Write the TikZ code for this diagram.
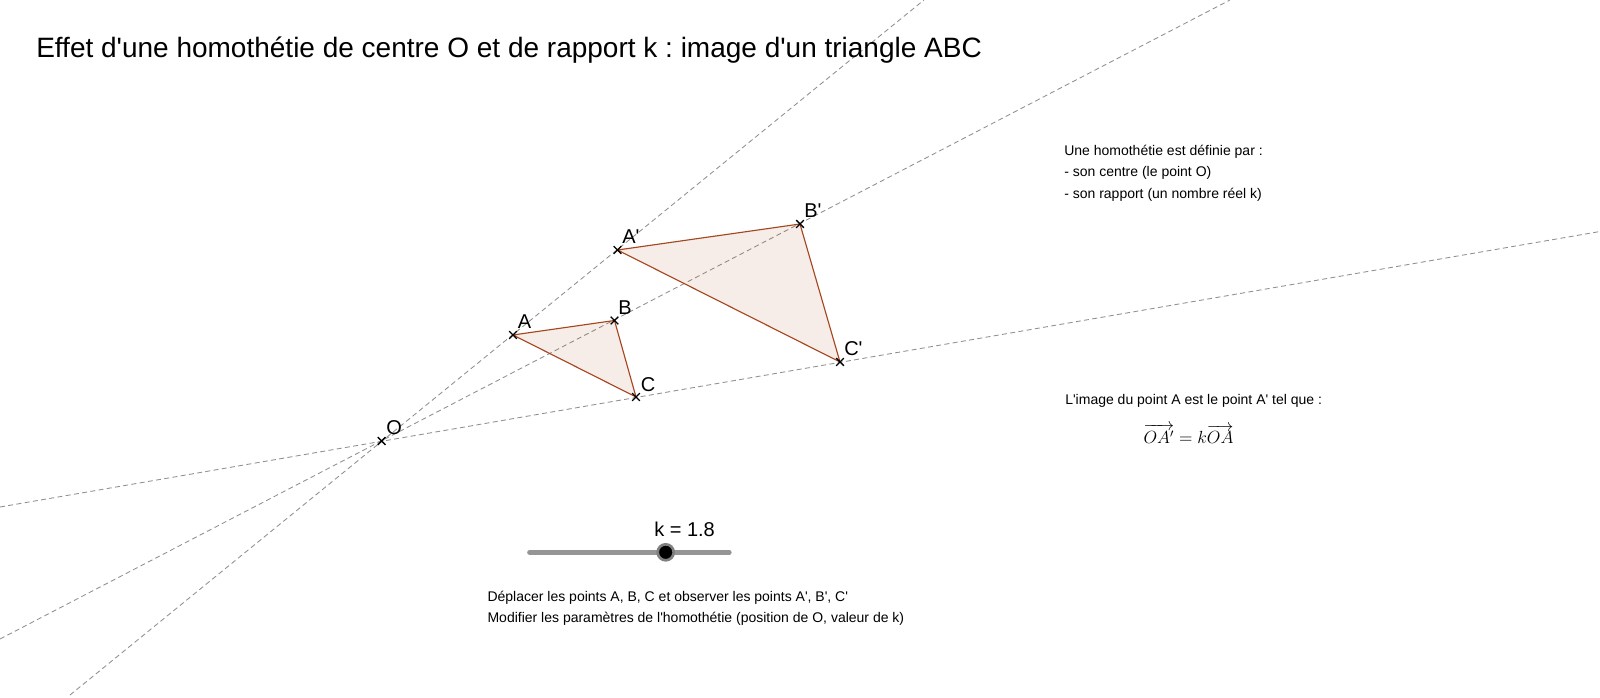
\documentclass[tikz,border=0pt]{standalone}
\usepackage{fontspec}
\setmainfont{Liberation Sans}[Ligatures=TeXOff]
\usepackage{amsmath}
\usetikzlibrary{shapes,positioning,calc}
\definecolor{triCol}{HTML}{A5461E}
\definecolor{rayCol}{HTML}{909090}
\definecolor{barCol}{HTML}{959595}
\definecolor{knobCol}{HTML}{808080}
\frenchspacing

\begin{document}
\begin{tikzpicture}
  [x=0.75pt,y=-0.75pt,
   ptN/.style={cross out,draw=black,line width=1.05pt,minimum size=5.8pt,inner sep=0pt,outer sep=0pt},
   lblN/.style={anchor=base west,inner sep=0pt,font=\fontsize{15}{18}\selectfont},
   txtN/.style={anchor=base west,inner sep=0pt,font=\fontsize{10.5}{13}\selectfont},
   rayL/.style={draw=rayCol,dash pattern=on 3.75pt off 2.5pt,line width=0.65pt},
   triL/.style={draw=triCol,line width=0.85pt,fill=triCol,fill opacity=0.1,line join=round},
  ]
 \useasboundingbox (0,0) rectangle (1600,698);

 % free ends of the rays
 \coordinate (ea) at (924,0);
 \coordinate (fa) at (70,695);
 \coordinate (eb) at (1230,0);
 \coordinate (fb) at (0,639);
 \coordinate (ec) at (1600,231.5);
 \coordinate (fc) at (0,507);

 \coordinate (O) at (381.7,441);
 \coordinate (A) at (513,335);
 \coordinate (B) at (614.5,320.5);
 \coordinate (C) at (636,397);
 \coordinate (A1) at (617.5,250);
 \coordinate (B1) at (800,224);
 \coordinate (C1) at (840,362);

 \draw[rayL] (fa) -- (ea);
 \draw[rayL] (fb) -- (eb);
 \draw[rayL] (fc) -- (ec);

 \draw[triL] (A) -- (B) -- (C) -- cycle;
 \draw[triL] (A1) -- (B1) -- (C1) -- cycle;

 \node[ptN] (pO) at (O) {};
 \node[ptN] (pA) at (A) {};
 \node[ptN] (pB) at (B) {};
 \node[ptN] (pC) at (C) {};
 \node[ptN] (pA1) at (A1) {};
 \node[ptN] (pB1) at (B1) {};
 \node[ptN] (pC1) at (C1) {};

 \node[lblN] (lO) at (386,434.5) {O};
 \node[lblN] (lA) at (517.5,329) {A};
 \node[lblN] (lB) at (618,314.5) {B};
 \node[lblN] (lC) at (640.5,391.5) {C};
 \node[lblN] (lA1) at (622,244) {A'};
 \node[lblN] (lB1) at (804,217.5) {B'};
 \node[lblN] (lC1) at (844,356) {C'};

 \node[anchor=base west,inner sep=0pt,font=\fontsize{21}{25}\selectfont] (title) at (36,58)
   {Effet d'une homothétie de centre O et de rapport k : image d'un triangle ABC};

 \node[txtN] (def1) at (1064,156) {Une homothétie est définie par :};
 \node[txtN] (def2) at (1064,177) {- son centre (le point O)};
 \node[txtN] (def3) at (1064,198.5) {- son rapport (un nombre réel k)};

 \node[txtN] (img) at (1065,405) {L'image du point A est le point A' tel que :};
 \node[anchor=base,inner sep=0pt,font=\fontsize{12}{14}\selectfont,scale=1.1,transform shape] (form) at (1188.5,443.5)
   {$\overrightarrow{OA'}=k\overrightarrow{OA}$};

 % slider
 \coordinate (sl) at (529.5,552.3);
 \coordinate (sr) at (729.3,552.3);
 \draw[barCol,line width=3.5pt,line cap=round] (sl) -- (sr);
 \node[circle,fill=black,draw=knobCol,line width=2pt,minimum size=12pt,inner sep=0pt] (knob) at (665.7,552.3) {};
 \node[lblN] (kval) at (654,536.7) {k = 1.8};

 \node[txtN] (hint1) at (487.3,601.7) {Déplacer les points A, B, C et observer les points A', B', C'};
 \node[txtN] (hint2) at (487.3,622) {Modifier les paramètres de l'homothétie (position de O, valeur de k)};
\end{tikzpicture}
\end{document}
